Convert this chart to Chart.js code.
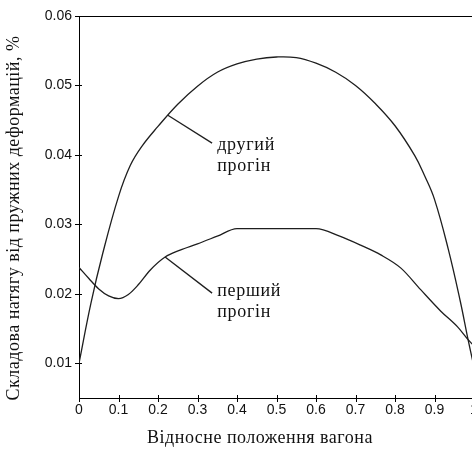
<!DOCTYPE html>
<html>
<head>
<meta charset="utf-8">
<script src="https://cdn.jsdelivr.net/npm/chart.js@4.4.1/dist/chart.umd.min.js"></script>
<style>
  html, body { margin: 0; padding: 0; background: #fff; overflow: hidden; }
  canvas { display: block; }
</style>
</head>
<body>
<canvas id="chart" width="490" height="449"></canvas>
<script>
// перший прогін (first span)
const span1X = [0, 0.025, 0.05, 0.075, 0.1, 0.125, 0.15, 0.18, 0.218, 0.256, 0.3, 0.35, 0.4, 0.5, 0.6, 0.66, 0.713, 0.764, 0.815, 0.865, 0.916, 0.959, 0.985, 1.0];
const span1Y = [0.0238, 0.0222, 0.0207, 0.0197, 0.0193, 0.0199, 0.0213, 0.0234, 0.0253, 0.0263, 0.0272, 0.0283, 0.0294, 0.0294, 0.0294, 0.0283, 0.0270, 0.0256, 0.0237, 0.0206, 0.0175, 0.0152, 0.0134, 0.0125];

// другий прогін (second span)
const span2X = [0, 0.03, 0.06, 0.1, 0.13, 0.16, 0.2, 0.25, 0.3, 0.35, 0.4, 0.45, 0.5, 0.55, 0.6, 0.65, 0.7, 0.75, 0.8, 0.85, 0.875, 0.9, 0.935, 0.965, 0.985, 1.0];
const span2Y = [0.0100, 0.0186, 0.0258, 0.0340, 0.0385, 0.0413, 0.0441, 0.0473, 0.0499, 0.0519, 0.0531, 0.0538, 0.0541, 0.0540, 0.0532, 0.0519, 0.0500, 0.0474, 0.0442, 0.0399, 0.0370, 0.0336, 0.0264, 0.0190, 0.0134, 0.0095];

// leader lines to the curve labels
const leader1X = [0.218, 0.337];
const leader1Y = [0.0253, 0.0201];
const leader2X = [0.225, 0.337];
const leader2Y = [0.0457, 0.0417];

const labelLines = [['другий', 'прогін'], ['перший', 'прогін']];
const labelX = [0.35, 0.35];
const labelY = [0.0414, 0.0203];

const xTickValues = [0, 0.1, 0.2, 0.3, 0.4, 0.5, 0.6, 0.7, 0.8, 0.9, 1];
const xTickLabels = ['0', '0.1', '0.2', '0.3', '0.4', '0.5', '0.6', '0.7', '0.8', '0.9', '1'];
const yTickValues = [0.01, 0.02, 0.03, 0.04, 0.05, 0.06];
const yTickLabels = ['0.01', '0.02', '0.03', '0.04', '0.05', '0.06'];

const xTitle = 'Відносне положення вагона';
const yTitle = 'Складова натягу від пружних деформацій, %';

const toPoints = (xs, ys) => xs.map((x, i) => ({ x: x, y: ys[i] }));

const lineColor = '#1e1e1e';
const serif = '"Liberation Serif", "Times New Roman", serif';

// crossing tick marks, top border, titles and curve labels
const decorPlugin = {
  id: 'decor',
  afterDraw(chart) {
    const ctx = chart.ctx;
    const xs = chart.scales.x, ys = chart.scales.y;
    const area = chart.chartArea;
    ctx.save();
    ctx.strokeStyle = '#000';
    ctx.lineWidth = 1;
    ctx.beginPath();
    ctx.moveTo(area.left, area.top + 0.5);
    ctx.lineTo(chart.width, area.top + 0.5);
    xTickValues.forEach(v => {
      const px = Math.round(xs.getPixelForValue(v)) + 0.5;
      ctx.moveTo(px, area.bottom - 3);
      ctx.lineTo(px, area.bottom + 4);
    });
    yTickValues.forEach(v => {
      const py = Math.round(ys.getPixelForValue(v)) + 0.5;
      ctx.moveTo(area.left - 4, py);
      ctx.lineTo(area.left + 3, py);
    });
    ctx.stroke();

    ctx.fillStyle = '#111';
    ctx.font = '18px ' + serif;
    ctx.letterSpacing = '0.5px';
    ctx.textBaseline = 'middle';

    ctx.textAlign = 'center';
    ctx.fillText(xTitle, 260, 438);

    ctx.save();
    ctx.translate(14, 218);
    ctx.rotate(-Math.PI / 2);
    ctx.fillText(yTitle, 0, 0);
    ctx.restore();

    ctx.letterSpacing = '0.7px';
    ctx.textAlign = 'left';
    labelLines.forEach((lines, i) => {
      const px = xs.getPixelForValue(labelX[i]);
      const py = ys.getPixelForValue(labelY[i]);
      lines.forEach((t, j) => ctx.fillText(t, px, py + j * 21));
    });
    ctx.restore();
  }
};

const ctx = document.getElementById('chart').getContext('2d');

const chart = new Chart(ctx, {
  type: 'line',
  data: {
    datasets: [
      { data: toPoints(span1X, span1Y), cubicInterpolationMode: 'monotone' },
      { data: toPoints(span2X, span2Y), tension: 0.4 },
      { data: toPoints(leader1X, leader1Y), tension: 0 },
      { data: toPoints(leader2X, leader2Y), tension: 0 }
    ]
  },
  options: {
    responsive: false,
    animation: false,
    devicePixelRatio: 1,
    layout: { padding: { top: 16, right: 16, left: 0, bottom: 0 } },
    elements: {
      line: { borderColor: lineColor, borderWidth: 1.3, fill: false },
      point: { radius: 0 }
    },
    plugins: {
      legend: { display: false },
      tooltip: { enabled: false }
    },
    scales: {
      x: {
        type: 'linear',
        min: 0,
        max: 1,
        afterBuildTicks: s => { s.ticks = xTickValues.map(v => ({ value: v })); },
        afterFit: s => { s.height = 51; },
        grid: { display: false, drawTicks: false },
        border: { display: true, color: '#000', width: 1 },
        ticks: {
          color: '#111',
          font: { family: '"Liberation Sans", Arial, sans-serif', size: 14 },
          padding: 4,
          maxRotation: 0,
          autoSkip: false,
          callback: (v, i) => xTickLabels[i]
        }
      },
      y: {
        type: 'linear',
        min: 0.005,
        max: 0.06,
        afterBuildTicks: s => { s.ticks = yTickValues.map(v => ({ value: v })); },
        afterFit: s => { s.width = 79; },
        grid: { display: false, drawTicks: false },
        border: { display: true, color: '#000', width: 1 },
        ticks: {
          color: '#111',
          font: { family: '"Liberation Sans", Arial, sans-serif', size: 14 },
          padding: 7,
          autoSkip: false,
          callback: (v, i) => yTickLabels[i]
        }
      }
    }
  },
  plugins: [decorPlugin]
});
</script>
</body>
</html>
